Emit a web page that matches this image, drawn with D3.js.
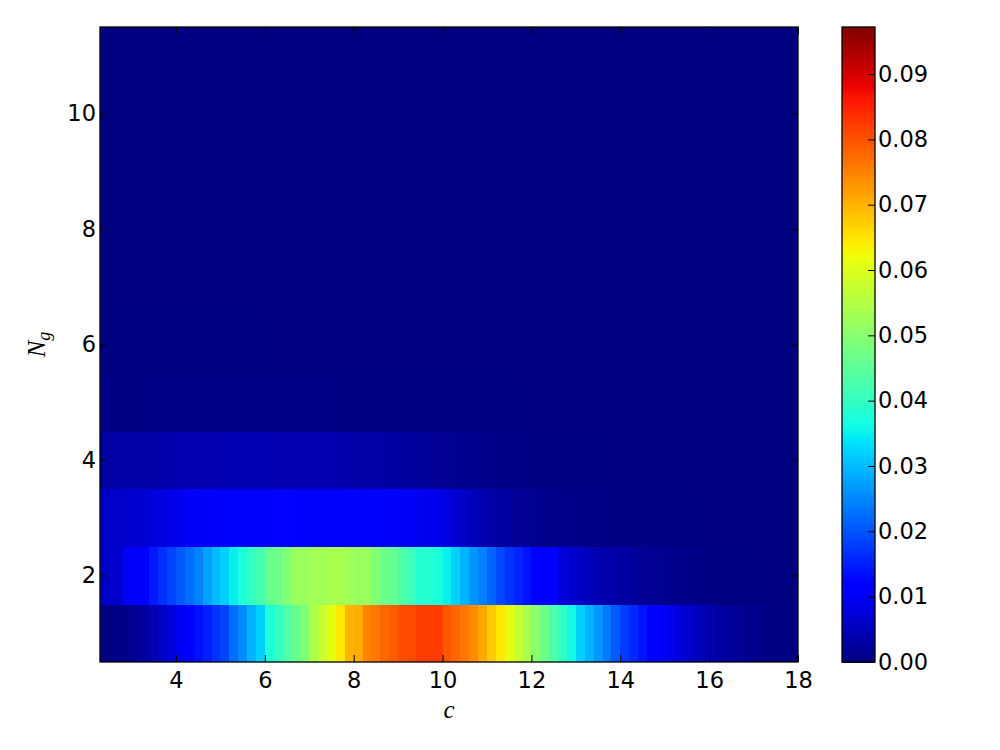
<!DOCTYPE html>
<html><head><meta charset="utf-8">
<script src="https://cdn.jsdelivr.net/npm/d3@7"></script>
<style>body{margin:0;background:#fff}svg{display:block}</style>
</head><body><svg id="chart" width="1000" height="750"></svg>
<script>
// ---- data ----
const cValues = [2.3,2.5,2.7,2.9,3.1,3.3,3.5,3.7,3.9,4.1,4.3,4.5,4.7,4.9,5.1,5.3,5.5,5.7,5.9,6.1,6.3,6.5,6.7,6.9,7.1,7.3,7.5,7.7,7.9,8.1,8.3,8.5,8.7,8.9,9.1,9.3,9.5,9.7,9.9,10.1,10.3,10.5,10.7,10.9,11.1,11.3,11.5,11.7,11.9,12.1,12.3,12.5,12.7,12.9,13.1,13.3,13.5,13.7,13.9,14.1,14.3,14.5,14.7,14.9,15.1,15.3,15.5,15.7,15.9,16.1,16.3,16.5,16.7,16.9,17.1,17.3,17.5,17.7,17.9];
const ngValues = [1,2,3,4,5,6,7,8,9,10,11];
const ng1 = [0.0002,0.0003,0.0006,0.001,0.0019,0.0027,0.004,0.0058,0.0076,0.0097,
 0.0112,0.0137,0.015,0.017,0.0185,0.0226,0.0254,0.0292,0.0321,0.0375,
 0.040,0.0434,0.046,0.049,0.054,0.0576,0.0612,0.0647,0.0698,0.0709,
 0.075,0.076,0.078,0.079,0.0805,0.081,0.0822,0.0822,0.0822,0.0795,
 0.0781,0.0762,0.074,0.0711,0.0678,0.0647,0.0612,0.0576,0.054,0.0505,
 0.047,0.0434,0.040,0.036,0.0321,0.0292,0.0264,0.0236,0.0207,0.0179,
 0.016,0.014,0.0112,0.0106,0.0093,0.008,0.0067,0.0054,0.0045,0.0036,
 0.0027,0.0023,0.0017,0.0012,0.0009,0.0006,0.0004,0.0002,0.0001];
const ng2 = [0.0058,0.006,0.0064,0.0105,0.011,0.0113,0.0145,0.0165,0.0185,0.0207,
 0.0226,0.0245,0.0275,0.030,0.032,0.035,0.0375,0.040,0.042,0.046,
 0.047,0.0493,0.052,0.052,0.053,0.053,0.054,0.054,0.053,0.052,
 0.052,0.0493,0.047,0.046,0.0434,0.041,0.0385,0.0385,0.037,0.035,
 0.0321,0.0292,0.0264,0.0245,0.0217,0.019,0.017,0.0155,0.014,0.0112,
 0.011,0.0106,0.0076,0.0067,0.0058,0.0049,0.004,0.0036,0.0031,0.0027,
 0.0023,0.0017,0.0015,0.0015,0.0014,0.0009,0.0009,0.0008,0.0004,0.0003,
 0.0003,0.0003,0.0002,0.0002,0.0002,0.0002,0.0001,0.0001,0.0001];
const ng3 = [0.0058,0.006,0.0062,0.0064,0.0067,0.007,0.0076,0.0082,0.0088,0.0095,
 0.0099,0.0102,0.0105,0.0108,0.011,0.0112,0.0113,0.0115,0.0117,0.012,
 0.0122,0.0122,0.012,0.0118,0.0116,0.0115,0.0114,0.0113,0.0112,0.0111,
 0.011,0.0108,0.0106,0.0104,0.0101,0.0098,0.0096,0.0093,0.009,0.0082,
 0.007,0.006,0.005,0.0042,0.0035,0.0029,0.0024,0.002,0.0017,0.0014,
 0.0012,0.001,0.001,0.0009,0.0008,0.0006,0.0006,0.0005,0.0005,0.0004,
 0.0004,0.0003,0.0002,0.0002,0.0002,0.0002,0.0002,0.0002,0.0001,0.0001,
 0.0001,0.0001,0.0001,0.0001,0.0001,0.0001,0.0001,0.0001,0.0001];
const ng4 = [0.003,0.0031,0.0031,0.0032,0.0033,0.0034,0.0035,0.0036,0.0037,0.0038,
 0.0039,0.004,0.004,0.0041,0.0041,0.0042,0.0042,0.0042,0.0042,0.0042,
 0.0041,0.0041,0.004,0.004,0.004,0.0039,0.0038,0.0037,0.0036,0.0035,
 0.0034,0.0032,0.003,0.0028,0.0026,0.0024,0.0022,0.002,0.0019,0.0017,
 0.0015,0.0013,0.0012,0.001,0.0009,0.0008,0.0007,0.0006,0.0005,0.0004,
 0.0004,0.0003,0.0003,0.0003,0.0002,0.0002,0.0002,0.0002,0.0001,0.0001,
 0.0001,0.0001,0.0001,0.0001,0.0001,0.0001,0.0001,0.0001,0.0001,0.0001,
 0.0001,0.0001,0.0001,0.0001,0.0001,0.0001,0.0001,0.0001,0.0001];
const ng5 = [0.0003,0.0004,0.0004,0.0004,0.0005,0.0005,0.0006,0.0006,0.0006,0.0006,
 0.0006,0.0006,0.0006,0.0006,0.0006,0.0006,0.0006,0.0006,0.0006,0.0006,
 0.0006,0.0006,0.0006,0.0006,0.0006,0.0006,0.0005,0.0005,0.0005,0.0005,
 0.0004,0.0004,0.0004,0.0004,0.0003,0.0003,0.0003,0.0003,0.0002,0.0002,
 0.0002,0.0002,0.0002,0.0002,0.0002,0.0002,0.0002,0.0002,0.0002,0.0001,
 0.0001,0.0001,0.0001,0.0001,0.0001,0.0001,0.0001,0.0001,0.0001,0.0001,
 0.0001,0.0001,0.0001,0.0001,0.0001,0.0001,0.0001,0.0001,0.0001,0.0001,
 0.0001,0.0001,0.0001,0.0001,0.0001,0.0001,0.0001,0.0001,0.0001];
const ng6 = [0.0002,0.0002,0.0002,0.0002,0.0002,0.0002,0.0002,0.0002,0.0002,0.0002,
 0.0002,0.0002,0.0002,0.0002,0.0002,0.0002,0.0002,0.0002,0.0002,0.0002,
 0.0001,0.0001,0.0001,0.0001,0.0001,0.0001,0.0001,0.0001,0.0001,0.0001,
 0.0001,0.0001,0.0001,0.0001,0.0001,0.0001,0.0001,0.0001,0.0001,0.0001,
 0,0,0,0,0,0,0,0,0,0, 0,0,0,0,0,0,0,0,0,0, 0,0,0,0,0,0,0,0,0,0, 0,0,0,0,0,0,0,0,0];
const ng7 = [0,0,0,0,0,0,0,0,0,0, 0,0,0,0,0,0,0,0,0,0, 0,0,0,0,0,0,0,0,0,0, 0,0,0,0,0,0,0,0,0,0,
 0,0,0,0,0,0,0,0,0,0, 0,0,0,0,0,0,0,0,0,0, 0,0,0,0,0,0,0,0,0,0, 0,0,0,0,0,0,0,0,0];
const ng8 = [0,0,0,0,0,0,0,0,0,0, 0,0,0,0,0,0,0,0,0,0, 0,0,0,0,0,0,0,0,0,0, 0,0,0,0,0,0,0,0,0,0,
 0,0,0,0,0,0,0,0,0,0, 0,0,0,0,0,0,0,0,0,0, 0,0,0,0,0,0,0,0,0,0, 0,0,0,0,0,0,0,0,0];
const ng9 = [0,0,0,0,0,0,0,0,0,0, 0,0,0,0,0,0,0,0,0,0, 0,0,0,0,0,0,0,0,0,0, 0,0,0,0,0,0,0,0,0,0,
 0,0,0,0,0,0,0,0,0,0, 0,0,0,0,0,0,0,0,0,0, 0,0,0,0,0,0,0,0,0,0, 0,0,0,0,0,0,0,0,0];
const ng10 = [0,0,0,0,0,0,0,0,0,0, 0,0,0,0,0,0,0,0,0,0, 0,0,0,0,0,0,0,0,0,0, 0,0,0,0,0,0,0,0,0,0,
 0,0,0,0,0,0,0,0,0,0, 0,0,0,0,0,0,0,0,0,0, 0,0,0,0,0,0,0,0,0,0, 0,0,0,0,0,0,0,0,0];
const ng11 = [0,0,0,0,0,0,0,0,0,0, 0,0,0,0,0,0,0,0,0,0, 0,0,0,0,0,0,0,0,0,0, 0,0,0,0,0,0,0,0,0,0,
 0,0,0,0,0,0,0,0,0,0, 0,0,0,0,0,0,0,0,0,0, 0,0,0,0,0,0,0,0,0,0, 0,0,0,0,0,0,0,0,0];
const rows = [ng1,ng2,ng3,ng4,ng5,ng6,ng7,ng8,ng9,ng10,ng11];
const xTicks = [4,6,8,10,12,14,16,18];
const yTicks = [2,4,6,8,10];
const cbTicks = [0,0.01,0.02,0.03,0.04,0.05,0.06,0.07,0.08,0.09];
const cbTickLabels = ["0.00","0.01","0.02","0.03","0.04","0.05","0.06","0.07","0.08","0.09"];
const vMax = 0.0972;
const cellWidth = 0.2;

// ---- jet colormap (matplotlib segment data) ----
const jetR = [[0,0],[0.35,0],[0.66,1],[0.89,1],[1,0.5]];
const jetG = [[0,0],[0.125,0],[0.375,1],[0.64,1],[0.91,0],[1,0]];
const jetB = [[0,0.5],[0.11,1],[0.34,1],[0.65,0],[1,0]];
function seg(pts, t){
  for(let i=1;i<pts.length;i++){
    if(t<=pts[i][0]){
      const a=pts[i-1], b=pts[i];
      return a[1]+(b[1]-a[1])*(t-a[0])/(b[0]-a[0]);
    }
  }
  return pts[pts.length-1][1];
}
function jet(t){
  t=Math.max(0,Math.min(1,t));
  return d3.rgb(Math.round(255*seg(jetR,t)),Math.round(255*seg(jetG,t)),Math.round(255*seg(jetB,t))).toString();
}

// ---- layout ----
const svg = d3.select("#chart");
const L=100, R=798, T=27, B=662;
const x = d3.scaleLinear().domain([2.29,18]).range([L,R]);
const y = d3.scaleLinear().domain([0.5,11.5]).range([B,T]);
const color = d3.scaleSequential(jet).domain([0,vMax]);
const FONT = "'DejaVu Sans', sans-serif";
const FS = 22.5;

svg.append("defs").append("clipPath").attr("id","clip")
  .append("rect").attr("x",L).attr("y",T).attr("width",R-L).attr("height",B-T);

const cells = [];
rows.forEach((row,ri)=>{
  row.forEach((v,ci)=>cells.push({c:cValues[ci], ng:ngValues[ri], v}));
});
svg.append("g").attr("clip-path","url(#clip)").attr("shape-rendering","crispEdges")
  .selectAll("rect").data(cells).join("rect")
  .attr("x",d=>x(d.c-cellWidth/2))
  .attr("width",d=>x(d.c+cellWidth/2)-x(d.c-cellWidth/2)+0.5)
  .attr("y",d=>y(d.ng+0.5))
  .attr("height",d=>y(d.ng-0.5)-y(d.ng+0.5)+0.5)
  .attr("fill",d=>color(d.v));

// axes
function styleAxis(g, showLabels){
  g.select(".domain").remove();
  g.selectAll(".tick line").attr("stroke","#000").attr("stroke-width",1);
  g.selectAll(".tick text").attr("font-family",FONT).attr("font-size",FS).attr("fill","#000");
  if(!showLabels) g.selectAll(".tick text").remove();
}
svg.append("g").attr("transform",`translate(0,${B})`)
  .call(d3.axisBottom(x).tickValues(xTicks).tickSize(-7).tickPadding(10).tickFormat(d3.format("d")))
  .call(g=>styleAxis(g,true));
svg.append("g").attr("transform",`translate(0,${T})`)
  .call(d3.axisTop(x).tickValues(xTicks).tickSize(-7))
  .call(g=>styleAxis(g,false));
svg.append("g").attr("transform",`translate(${L},0)`)
  .call(d3.axisLeft(y).tickValues(yTicks).tickSize(-7).tickPadding(4).tickFormat(d3.format("d")))
  .call(g=>styleAxis(g,true));
svg.append("g").attr("transform",`translate(${R},0)`)
  .call(d3.axisRight(y).tickValues(yTicks).tickSize(-7))
  .call(g=>styleAxis(g,false));

svg.append("rect").attr("x",L).attr("y",T).attr("width",R-L).attr("height",B-T)
  .attr("fill","none").attr("stroke","#000").attr("stroke-width",1.3);

// axis labels
svg.append("text").attr("x",(L+R)/2).attr("y",718).attr("text-anchor","middle")
  .attr("font-family","'Liberation Serif', 'DejaVu Serif', serif").attr("font-style","italic")
  .attr("font-size",25).text("c");
const yl = svg.append("text").attr("transform",`translate(45,${(T+B)/2}) rotate(-90)`)
  .attr("text-anchor","middle")
  .attr("font-family","'Liberation Serif', 'DejaVu Serif', serif").attr("font-style","italic")
  .attr("font-size",25);
yl.append("tspan").text("N");
yl.append("tspan").attr("dy",5).attr("font-size",18).text("g");

// colorbar
const CL=842, CR=875;
const cb = d3.scaleLinear().domain([0,vMax]).range([B,T]);
const nStrips = 256;
const strips = d3.range(nStrips).map(k=>({lo:vMax*k/nStrips, hi:vMax*(k+1)/nStrips}));
svg.append("g").attr("shape-rendering","crispEdges").selectAll("rect").data(strips).join("rect")
  .attr("x",CL).attr("width",CR-CL)
  .attr("y",d=>cb(d.hi)).attr("height",d=>cb(d.lo)-cb(d.hi)+0.5)
  .attr("fill",d=>color((d.lo+d.hi)/2));
svg.append("g").attr("transform",`translate(${CR},0)`)
  .call(d3.axisRight(cb).tickValues(cbTicks).tickSize(-7).tickPadding(3)
    .tickFormat((d,i)=>cbTickLabels[i]))
  .call(g=>styleAxis(g,true));
svg.append("rect").attr("x",CL).attr("y",T).attr("width",CR-CL).attr("height",B-T)
  .attr("fill","none").attr("stroke","#000").attr("stroke-width",1.3);
</script></body></html>
